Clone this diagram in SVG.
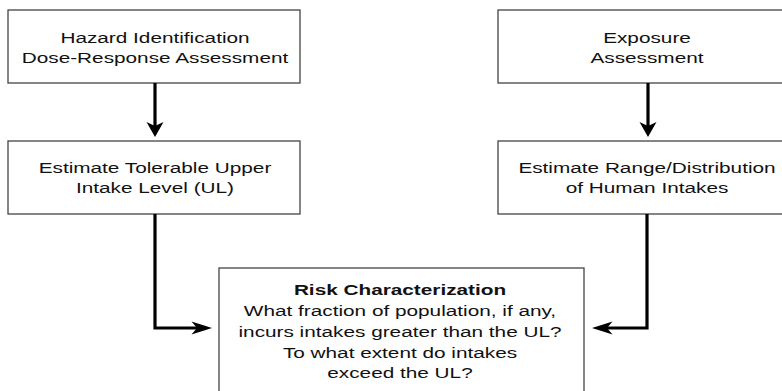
<svg xmlns="http://www.w3.org/2000/svg" width="782" height="391" viewBox="0 0 782 391">
<style>
.box{fill:#fff;stroke:#444;stroke-width:1.3}
.t{font-family:"Liberation Sans",Arial,sans-serif;font-size:15.5px;fill:#111;text-anchor:middle}
.b{font-weight:bold}
.c{fill:none;stroke:#000;stroke-width:3.2}
.h{fill:#000;stroke:none}
</style>
<rect width="782" height="391" fill="#fff"/>
<g id="n1">
<rect class="box" x="8" y="10" width="292" height="73"/>
<g transform="translate(155,0) scale(1.34,1)"><text class="t" x="0" y="42.7">Hazard Identification</text><text class="t" x="0" y="62.7">Dose-Response Assessment</text></g>
</g>
<g id="n2">
<rect class="box" x="8" y="141" width="292" height="73"/>
<g transform="translate(155,0) scale(1.34,1)"><text class="t" x="0" y="173">Estimate Tolerable Upper</text><text class="t" x="0" y="193">Intake Level (UL)</text></g>
</g>
<g id="n3">
<rect class="box" x="498" y="10" width="300" height="73"/>
<g transform="translate(647,0) scale(1.34,1)"><text class="t" x="0" y="42.7">Exposure</text><text class="t" x="0" y="62.7">Assessment</text></g>
</g>
<g id="n4">
<rect class="box" x="498" y="141" width="300" height="73"/>
<g transform="translate(647,0) scale(1.34,1)"><text class="t" x="0" y="173">Estimate Range/Distribution</text><text class="t" x="0" y="193">of Human Intakes</text></g>
</g>
<g id="n5">
<rect class="box" x="219" y="268" width="365" height="140"/>
<g transform="translate(400,0) scale(1.34,1)"><text class="t b" x="0" y="295.5">Risk Characterization</text><text class="t" x="0" y="316.3">What fraction of population, if any,</text><text class="t" x="0" y="337">incurs intakes greater than the UL?</text><text class="t" x="0" y="357.7">To what extent do intakes</text><text class="t" x="0" y="378.3">exceed the UL?</text></g>
</g>
<g id="connectors">
<path class="c" d="M155,83 V127"/>
<path class="h" d="M155,137 L146.5,122 L155,126 L163.5,122 Z"/>
<path class="c" d="M648,83 V127"/>
<path class="h" d="M648,137 L639.5,122 L648,126 L656.5,122 Z"/>
<path class="c" d="M155,214 V328 H202"/>
<path class="h" d="M212,328 L191.5,321.5 L197,328 L191.5,334.5 Z"/>
<path class="c" d="M647,214 V328 H602"/>
<path class="h" d="M592,328 L612.5,321.5 L607,328 L612.5,334.5 Z"/>
</g>
</svg>
